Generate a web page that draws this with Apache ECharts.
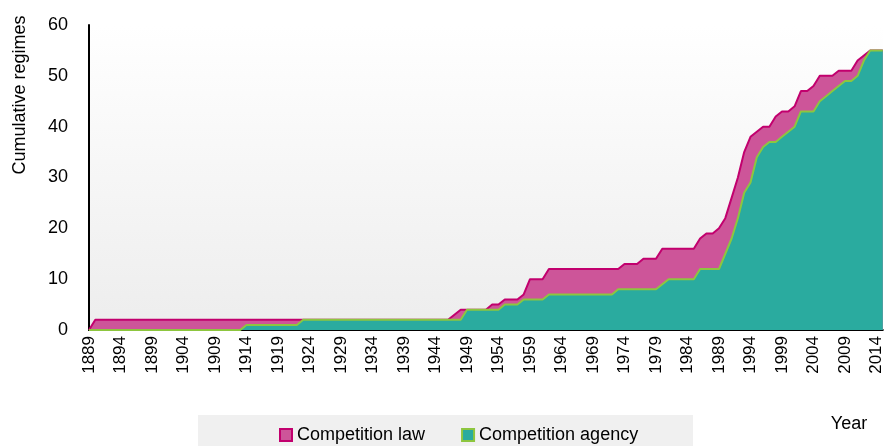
<!DOCTYPE html>
<html>
<head>
<meta charset="utf-8">
<script src="https://cdn.jsdelivr.net/npm/echarts@6/dist/echarts.min.js"></script>
<style>
  html, body { margin: 0; padding: 0; background: #fff; }
  #chart { width: 885px; height: 446px; }
</style>
</head>
<body>
<div id="chart"></div>
<script>
// years on the x axis, one category per year
var firstYear = 1889;
var lastYear = 2015;
var years = [];
for (var y = firstYear; y <= lastYear; y++) years.push(String(y));

// cumulative number of regimes with a competition law (1889 .. 2015)
var lawCount = [
  0,
  2, 2, 2, 2, 2, 2, 2, 2, 2, 2,          // 1890s
  2, 2, 2, 2, 2, 2, 2, 2, 2, 2,          // 1900s
  2, 2, 2, 2, 2, 2, 2, 2, 2, 2,          // 1910s
  2, 2, 2, 2, 2, 2, 2, 2, 2, 2,          // 1920s
  2, 2, 2, 2, 2, 2, 2, 2, 2, 2,          // 1930s
  2, 2, 2, 2, 2, 2, 2, 3, 4, 4,          // 1940s
  4, 4, 4, 5, 5, 6, 6, 6, 7, 10,         // 1950s
  10, 10, 12, 12, 12, 12, 12, 12, 12, 12, // 1960s
  12, 12, 12, 12, 13, 13, 13, 14, 14, 14, // 1970s
  16, 16, 16, 16, 16, 16, 18, 19, 19, 20, // 1980s
  22, 26, 30, 35, 38, 39, 40, 40, 42, 43, // 1990s
  43, 44, 47, 47, 48, 50, 50, 50, 51, 51, // 2000s
  51, 53, 54, 55, 55, 55                  // 2010-2015
];

// cumulative number of regimes with a competition agency
var agencyCount = [
  0,
  0, 0, 0, 0, 0, 0, 0, 0, 0, 0,
  0, 0, 0, 0, 0, 0, 0, 0, 0, 0,
  0, 0, 0, 0, 1, 1, 1, 1, 1, 1,
  1, 1, 1, 2, 2, 2, 2, 2, 2, 2,
  2, 2, 2, 2, 2, 2, 2, 2, 2, 2,
  2, 2, 2, 2, 2, 2, 2, 2, 2, 4,
  4, 4, 4, 4, 4, 5, 5, 5, 6, 6,
  6, 6, 7, 7, 7, 7, 7, 7, 7, 7,
  7, 7, 7, 8, 8, 8, 8, 8, 8, 8,
  9, 10, 10, 10, 10, 10, 12, 12, 12, 12,
  15, 18, 22, 27, 29, 34, 36, 37, 37, 38,
  39, 40, 43, 43, 43, 45, 46, 47, 48, 49,
  49, 50, 53, 55, 55, 55
];

var seriesNames = ['Competition law', 'Competition agency'];
var yTicks = [0, 10, 20, 30, 40, 50, 60];

var FONT = '"Liberation Sans", Arial, sans-serif';
var lawFill = '#cd5599', lawLine = '#c2006e';
var agencyFill = '#2aab9f', agencyLine = '#8dc63f';

var myChart = echarts.init(document.getElementById('chart'), null, { renderer: 'canvas' });

myChart.setOption({
  animation: false,
  textStyle: { fontFamily: FONT, color: '#000' },
  grid: {
    left: 89, right: 1, top: 25, bottom: 116,
    show: true,
    borderWidth: 0,
    backgroundColor: new echarts.graphic.LinearGradient(0, 0, 0, 1, [
      { offset: 0, color: '#ffffff' },
      { offset: 1, color: '#ededed' }
    ])
  },
  legend: {
    left: 279,
    top: 426,
    padding: 0,
    itemWidth: 12,
    itemHeight: 12,
    itemGap: 36,
    icon: 'rect',
    textStyle: { fontFamily: FONT, fontSize: 18, color: '#000' },
    data: [
      { name: seriesNames[0], itemStyle: { color: lawFill, borderColor: lawLine, borderWidth: 2 } },
      { name: seriesNames[1], itemStyle: { color: agencyFill, borderColor: agencyLine, borderWidth: 2 } }
    ]
  },
  graphic: [
    { type: 'rect', z: -10, shape: { x: 198, y: 415, width: 495, height: 40 }, style: { fill: '#f0f0f0' } },
    { type: 'text', x: 20, y: 95, rotation: Math.PI / 2,
      style: { text: 'Cumulative regimes', font: '18px ' + FONT, fill: '#000', align: 'center', verticalAlign: 'middle' } },
    { type: 'text', x: 849, y: 424,
      style: { text: 'Year', font: '18px ' + FONT, fill: '#000', align: 'center', verticalAlign: 'middle' } }
  ],
  xAxis: {
    type: 'category',
    data: years,
    boundaryGap: false,
    axisLine: { lineStyle: { color: '#000', width: 2 } },
    axisTick: { show: false },
    axisLabel: { interval: 4, rotate: 90, margin: 6, fontSize: 17, color: '#000', fontFamily: FONT },
    splitLine: { show: false }
  },
  yAxis: {
    type: 'value',
    min: yTicks[0],
    max: yTicks[yTicks.length - 1],
    interval: 10,
    axisLine: { show: true, lineStyle: { color: '#000', width: 2 } },
    axisTick: { show: false },
    axisLabel: { margin: 21, fontSize: 18, color: '#000', fontFamily: FONT },
    splitLine: { show: false }
  },
  series: [
    {
      name: seriesNames[0],
      type: 'line',
      data: lawCount,
      symbol: 'none',
      lineStyle: { color: lawLine, width: 2 },
      itemStyle: { color: lawFill },
      areaStyle: { color: lawFill, opacity: 1 },
      z: 2
    },
    {
      name: seriesNames[1],
      type: 'line',
      data: agencyCount,
      symbol: 'none',
      lineStyle: { color: agencyLine, width: 2 },
      itemStyle: { color: agencyFill },
      areaStyle: { color: agencyFill, opacity: 1 },
      z: 3
    }
  ]
});
</script>
</body>
</html>
